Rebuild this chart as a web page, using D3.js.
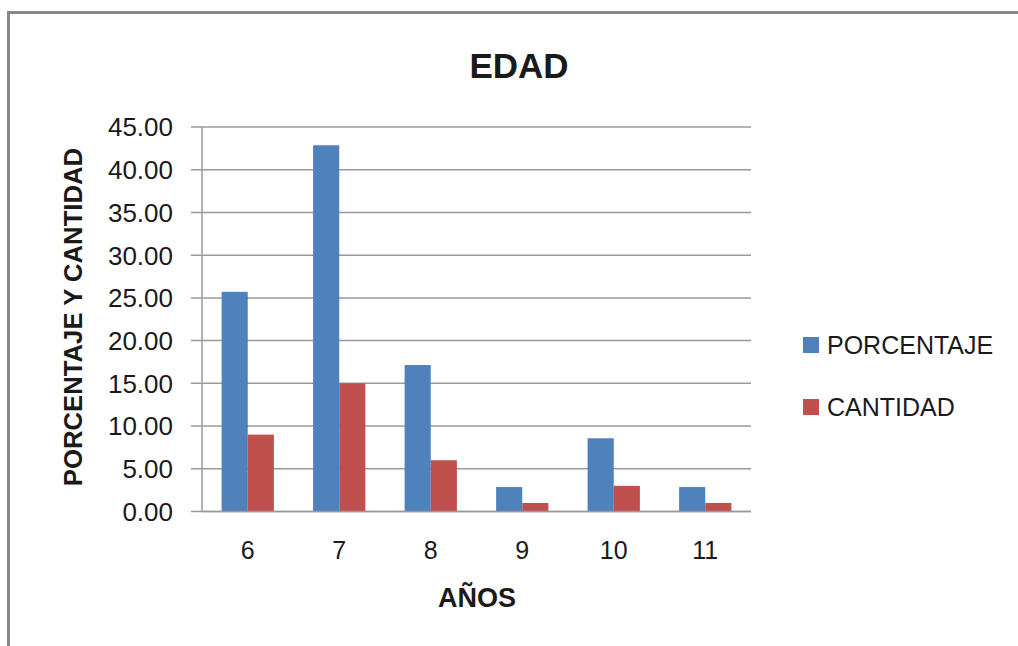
<!DOCTYPE html>
<html>
<head>
<meta charset="utf-8">
<script src="https://cdn.jsdelivr.net/npm/d3@7"></script>
<style>
html,body{margin:0;padding:0;background:#fff;overflow:hidden;}
svg{display:block;}
text{font-family:"Liberation Sans",Arial,sans-serif;fill:#1a1a1a;}
</style>
</head>
<body>
<svg id="chart" width="1018" height="646"></svg>
<script>
const categories = ["6", "7", "8", "9", "10", "11"];
const seriesNames = ["PORCENTAJE", "CANTIDAD"];
const porcentaje = [25.71, 42.86, 17.14, 2.86, 8.57, 2.86];
const cantidad = [9, 15, 6, 1, 3, 1];
const yTicks = [0, 5, 10, 15, 20, 25, 30, 35, 40, 45];
const colors = ["#4F81BD", "#C0504D"];

(function () {
const svg = d3.select("#chart");

// outer frame
svg.append("rect")
  .attr("x", 8.5).attr("y", 12.5)
  .attr("width", 1030).attr("height", 660)
  .attr("fill", "none").attr("stroke", "#888").attr("stroke-width", 3);

const pLeft = 202, pRight = 751, pTop = 127, pBottom = 511.5;

const y = d3.scaleLinear().domain([0, 45]).range([pBottom, pTop]);
const x0 = d3.scaleBand().domain(categories).range([pLeft, pRight]).padding(0);
const bw = x0.bandwidth();
const gap = bw * 0.75 / 3.5;
const x1 = d3.scaleBand().domain(seriesNames).range([gap, bw - gap]).padding(0);
const color = d3.scaleOrdinal().domain(seriesNames).range(colors);

// gridlines
svg.append("g").selectAll("line").data(yTicks).join("line")
  .attr("x1", pLeft - 11).attr("x2", pRight)
  .attr("y1", d => y(d)).attr("y2", d => y(d))
  .attr("stroke", "#9a9a9a").attr("stroke-width", 1.5);

// y axis line
svg.append("line")
  .attr("x1", pLeft).attr("x2", pLeft)
  .attr("y1", pTop).attr("y2", pBottom)
  .attr("stroke", "#9a9a9a").attr("stroke-width", 1.5);

// y tick labels
svg.append("g").selectAll("text").data(yTicks).join("text")
  .attr("x", 173).attr("y", d => y(d))
  .attr("dy", "0.36em")
  .attr("text-anchor", "end")
  .style("font-size", "26px")
  .text(d => d3.format(".2f")(d));

// bars
const rows = categories.map((c, i) => ({cat: c, vals: [
  {s: seriesNames[0], v: porcentaje[i]},
  {s: seriesNames[1], v: cantidad[i]}
]}));

const groups = svg.append("g").selectAll("g").data(rows).join("g")
  .attr("transform", d => `translate(${x0(d.cat)},0)`);
groups.selectAll("rect").data(d => d.vals).join("rect")
  .attr("x", d => x1(d.s))
  .attr("width", x1.bandwidth())
  .attr("y", d => y(d.v))
  .attr("height", d => y(0) - y(d.v))
  .attr("fill", d => color(d.s));

// baseline on top
svg.append("line")
  .attr("x1", pLeft).attr("x2", pRight)
  .attr("y1", pBottom).attr("y2", pBottom)
  .attr("stroke", "#9a9a9a").attr("stroke-width", 1.5);

// x tick labels
svg.append("g").selectAll("text").data(categories).join("text")
  .attr("x", d => x0(d) + bw / 2).attr("y", 559)
  .attr("text-anchor", "middle")
  .style("font-size", "25px")
  .text(d => d);

// title
svg.append("text")
  .attr("x", 519).attr("y", 78)
  .attr("text-anchor", "middle")
  .style("font-size", "35px").style("font-weight", "bold")
  .text("EDAD");

// x axis title
svg.append("text")
  .attr("x", 477).attr("y", 607)
  .attr("text-anchor", "middle")
  .style("font-size", "27px").style("font-weight", "bold")
  .text("AÑOS");

// y axis title
svg.append("text")
  .attr("transform", "translate(82,317) rotate(-90)")
  .attr("text-anchor", "middle")
  .style("font-size", "25.7px").style("font-weight", "bold")
  .text("PORCENTAJE Y CANTIDAD");

// legend
const legend = svg.append("g").selectAll("g").data(seriesNames).join("g")
  .attr("transform", (d, i) => `translate(803,${345 + i * 62})`);
legend.append("rect")
  .attr("x", 0).attr("y", -8).attr("width", 16).attr("height", 16)
  .attr("fill", d => color(d));
legend.append("text")
  .attr("x", 24).attr("y", 0).attr("dy", "0.36em")
  .style("font-size", "25px")
  .text(d => d);
})();
</script>
</body>
</html>
